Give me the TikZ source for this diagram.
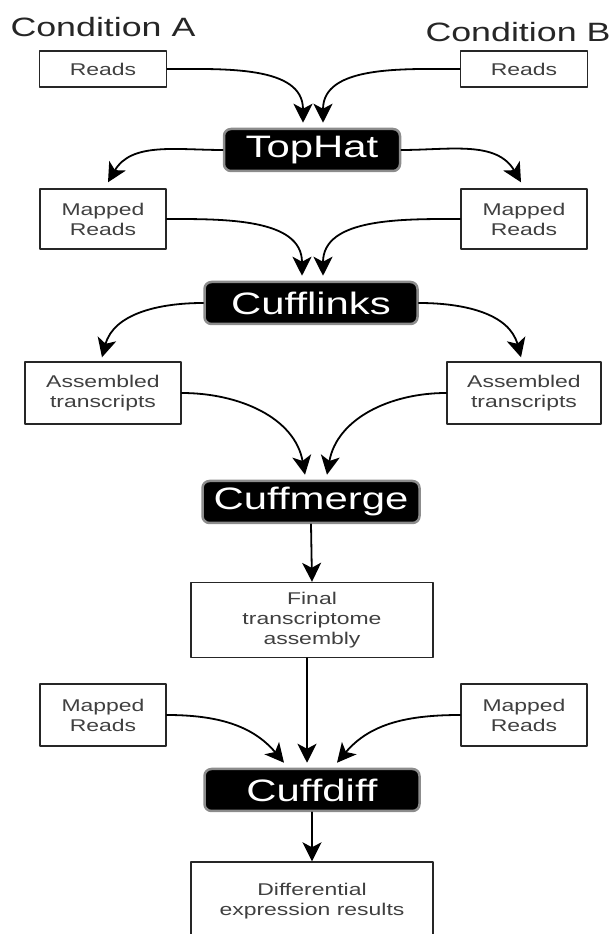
\documentclass[tikz,border=0pt]{standalone}
\usepackage{fontspec}
\setmainfont{Liberation Sans}
\newfontfamily\widesf[FakeStretch=1.35]{Liberation Sans}
\usetikzlibrary{arrows.meta}
\begin{document}
\begin{tikzpicture}[x=1pt,y=1pt,>={Stealth[length=19pt,width=19pt,inset=5pt]}, line join=round, line cap=round,
	box/.style={draw=black!85, line width=1.4pt, fill=white, inner sep=0pt, align=center, text=black!75, font=\widesf\fontsize{17}{20}\selectfont},
	tool/.style={fill=black, draw=black!45, line width=2.5pt, rounded corners=7pt, text=white, inner sep=0pt, minimum height=42pt, font=\widesf\fontsize{31}{33}\selectfont},
	cond/.style={text=black!85, inner sep=0pt, font=\widesf\fontsize{26.5}{28}\selectfont},
	flow/.style={->, line width=1.8pt}]
	\useasboundingbox (0,0) rectangle (614,934);
	\clip (0,0) rectangle (614,934);
	% conditions and inputs
	\node[cond] (condA) at (103,907) {Condition A};
	\node[cond] (condB) at (518,902) {Condition B};
	\node[box, minimum width=127pt, minimum height=36pt] (readsA) at (103,865) {Reads};
	\node[box, minimum width=127pt, minimum height=36pt] (readsB) at (524,865) {Reads};
	% tools
	\node[tool, minimum width=176pt] (tophat) at (312,784) {TopHat};
	\node[tool, minimum width=213pt] (cufflinks) at (311,631) {Cufflinks};
	\node[tool, minimum width=217pt] (cuffmerge) at (311,432) {Cuffmerge};
	\node[tool, minimum width=215pt] (cuffdiff) at (312,144) {Cuffdiff};
	% intermediate files
	\node[box, minimum width=126pt, minimum height=60pt] (mapA) at (103,715) {Mapped\\Reads};
	\node[box, minimum width=126pt, minimum height=60pt] (mapB) at (524,715) {Mapped\\Reads};
	\node[box, minimum width=156pt, minimum height=62pt] (asmA) at (103,541) {Assembled\\transcripts};
	\node[box, minimum width=154pt, minimum height=62pt] (asmB) at (524,541) {Assembled\\transcripts};
	\node[box, minimum width=242pt, minimum height=75pt] (final) at (312,314) {Final\\transcriptome\\assembly};
	\node[box, minimum width=126pt, minimum height=62pt] (mapC) at (103,219) {Mapped\\Reads};
	\node[box, minimum width=126pt, minimum height=62pt] (mapD) at (524,219) {Mapped\\Reads};
	\node[box, minimum width=242pt, minimum height=78pt] (diff) at (312,33) {Differential\\expression results};
	% connectors
	\draw[flow] (readsA.east) to[out=0,in=90] ([shift={(-9,5)}]tophat.north);
	\draw[flow] (readsB.west) to[out=180,in=90] ([shift={(11,5)}]tophat.north);
	\draw[flow] (tophat.west) to[out=180,in=60] ([shift={(5,6)}]mapA.north);
	\draw[flow] (tophat.east) to[out=0,in=120] ([shift={(-3,6)}]mapB.north);
	\draw[flow] (mapA.east) to[out=0,in=90] ([shift={(-9,5)}]cufflinks.north);
	\draw[flow] (mapB.west) to[out=180,in=90] ([shift={(12,5)}]cufflinks.north);
	\draw[flow] (cufflinks.west) to[out=180,in=75] ([shift={(-1,4)}]asmA.north);
	\draw[flow] (cufflinks.east) to[out=0,in=105] ([shift={(-3,4)}]asmB.north);
	\draw[flow] (asmA.east) to[out=0,in=100] ([shift={(-6,5)}]cuffmerge.north);
	\draw[flow] (asmB.west) to[out=180,in=80] ([shift={(16,5)}]cuffmerge.north);
	\draw[flow] (cuffmerge.south) -- (final.north);
	\draw[flow] ([xshift=-5pt]final.south) -- ([shift={(-5,5)}]cuffdiff.north);
	\draw[flow] (mapC.east) to[out=0,in=130] ([shift={(-28,5)}]cuffdiff.north);
	\draw[flow] (mapD.west) to[out=180,in=50] ([shift={(25,5)}]cuffdiff.north);
	\draw[flow] (cuffdiff.south) -- (diff.north);
\end{tikzpicture}
\end{document}
